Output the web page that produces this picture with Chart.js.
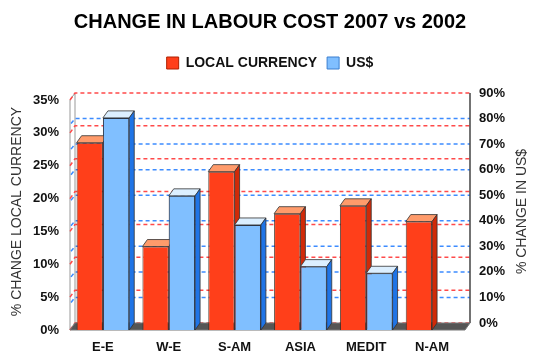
<!DOCTYPE html>
<html>
<head>
<meta charset="utf-8">
<script src="https://cdn.jsdelivr.net/npm/chart.js@4.4.1/dist/chart.umd.min.js"></script>
<style>
  body { margin: 0; background: #fff; }
</style>
</head>
<body>
<canvas id="chart" width="540" height="363"></canvas>
<script>
const regions = ["E-E", "W-E", "S-AM", "ASIA", "MEDIT", "N-AM"];
const localCurrency = [28.5, 12.7, 24.1, 17.7, 18.9, 16.5];
const usDollar = [83, 52.5, 41.1, 24.8, 22.2, null];
const localTicks = [0, 5, 10, 15, 20, 25, 30, 35];
const usdTicks = [0, 10, 20, 30, 40, 50, 60, 70, 80, 90];

// fake 3d depth (px) and plot height, used to line up front / back planes
const DX = 5, DY = -7;
const AREA_H = 237;
const leftMax = 35 * AREA_H / (AREA_H + DY);
const usdMin = 90 * DY / (AREA_H + DY);
const usdBarMax = 90 * AREA_H / (AREA_H + DY);

const faces = [
  { top: "#ff9b6b", side: "#d02a08" },
  { top: "#dcefff", side: "#1f74e6" }
];

Chart.defaults.font.family = "'Liberation Sans', Arial, sans-serif";

function poly(ctx, pts, fill) {
  ctx.beginPath();
  ctx.moveTo(pts[0][0], pts[0][1]);
  pts.slice(1).forEach(p => ctx.lineTo(p[0], p[1]));
  ctx.closePath();
  ctx.fillStyle = fill;
  ctx.fill();
  ctx.stroke();
}

function drawFaces(chart, idx) {
  const ctx = chart.ctx;
  const f = faces[idx];
  const values = chart.data.datasets[idx].data;
  ctx.save();
  ctx.lineWidth = 1;
  ctx.strokeStyle = "rgba(50,50,50,0.8)";
  chart.getDatasetMeta(idx).data.forEach((bar, i) => {
    if (values[i] == null) return;
    const { x, y, base, width } = bar.getProps(["x", "y", "base", "width"], true);
    const l = x - width / 2, r = x + width / 2;
    poly(ctx, [[l, y], [r, y], [r + DX, y + DY], [l + DX, y + DY]], f.top);
    poly(ctx, [[r, y], [r + DX, y + DY], [r + DX, base + DY], [r, base]], f.side);
  });
  ctx.restore();
}

// ------------------- walls, gridlines, floor, 3d faces -------------------
const wallPlugin = {
  id: "walls",
  beforeDatasetsDraw(chart) {
    const { ctx, chartArea: a, scales } = chart;
    ctx.save();

    // left wall
    ctx.strokeStyle = "#999";
    ctx.lineWidth = 1;
    poly(ctx, [[a.left, a.bottom], [a.left, a.top - DY], [a.left + DX, a.top], [a.left + DX, a.bottom + DY]], "#fff");

    ctx.lineWidth = 1.5;
    ctx.setLineDash([4, 3]);

    // red lines for local currency
    ctx.strokeStyle = "#ff4a4a";
    localTicks.forEach(v => {
      const y = scales.y.getPixelForValue(v);
      ctx.beginPath();
      ctx.moveTo(a.left, y);
      ctx.lineTo(a.left + DX, y + DY);
      ctx.lineTo(a.right + DX, y + DY);
      ctx.stroke();
    });

    // blue lines for US$
    ctx.strokeStyle = "#3d8cff";
    usdTicks.slice(1, -1).forEach(v => {
      const y = scales.y1.getPixelForValue(v);
      ctx.beginPath();
      ctx.moveTo(a.left + 1, y + 5);
      ctx.lineTo(a.left + DX, y);
      ctx.lineTo(a.right + DX, y);
      ctx.stroke();
    });
    ctx.setLineDash([]);

    // right edge of back wall
    ctx.strokeStyle = "#444";
    ctx.lineWidth = 1.5;
    ctx.beginPath();
    ctx.moveTo(a.right + DX, a.top);
    ctx.lineTo(a.right + DX, a.bottom + DY);
    ctx.stroke();

    // floor
    ctx.strokeStyle = "#777";
    ctx.lineWidth = 1;
    poly(ctx, [[a.left, a.bottom], [a.right, a.bottom], [a.right + DX, a.bottom + DY], [a.left + DX, a.bottom + DY]], "#555");

    ctx.restore();
  },
  afterDatasetsDraw(chart) {
    // red faces first, then the blue bars again so they sit in front of them
    drawFaces(chart, 0);
    const values = chart.data.datasets[1].data;
    chart.getDatasetMeta(1).data.forEach((bar, i) => {
      if (values[i] != null) bar.draw(chart.ctx);
    });
    drawFaces(chart, 1);
  },
  afterDraw(chart) {
    // right axis title, reading bottom to top like the left one
    const { ctx, chartArea: a } = chart;
    ctx.save();
    ctx.translate(chart.width - 17.4, (a.top + a.bottom) / 2);
    ctx.rotate(-Math.PI / 2);
    ctx.fillStyle = "#333";
    ctx.font = "14px 'Liberation Sans', Arial, sans-serif";
    ctx.textAlign = "center";
    ctx.textBaseline = "middle";
    ctx.fillText("% CHANGE IN US$", 0, 0);
    ctx.restore();
  }
};

const tickFont = { size: 13, weight: "bold" };

new Chart(document.getElementById("chart"), {
  type: "bar",
  data: {
    labels: regions,
    datasets: [
      {
        label: "LOCAL CURRENCY",
        data: localCurrency,
        yAxisID: "y",
        backgroundColor: "#ff3f1a",
        borderColor: "rgba(60,40,30,0.85)",
        borderWidth: 1
      },
      {
        label: "US$",
        data: usDollar,
        yAxisID: "yB",
        backgroundColor: "#80bfff",
        borderColor: "rgba(40,50,70,0.85)",
        borderWidth: 1
      }
    ]
  },
  options: {
    responsive: false,
    animation: false,
    categoryPercentage: 0.8,
    barPercentage: 1,
    layout: { padding: 0 },
    plugins: {
      title: {
        display: true,
        text: "CHANGE IN LABOUR COST 2007 vs 2002",
        color: "#000",
        font: { size: 20, weight: "bold" },
        padding: { top: 10, bottom: 12 }
      },
      subtitle: {
        display: true,
        text: "",
        weight: 500,
        font: { size: 1, lineHeight: 1 },
        padding: { top: 12, bottom: 0 }
      },
      legend: {
        labels: {
          boxWidth: 12,
          boxHeight: 12,
          padding: 10,
          color: "#111",
          font: { size: 14, weight: "bold" },
          generateLabels(chart) {
            const items = Chart.defaults.plugins.legend.labels.generateLabels(chart);
            items.forEach(it => {
              it.strokeStyle = it.datasetIndex === 0 ? "#b02000" : "#3a7fd0";
            });
            return items;
          }
        }
      },
      tooltip: { enabled: false }
    },
    scales: {
      x: {
        grid: { display: false, drawTicks: false },
        border: { display: false },
        ticks: { padding: 10, color: "#111", font: tickFont },
        afterFit: s => { s.height = 33; }
      },
      y: {
        position: "left",
        min: 0,
        max: leftMax,
        grid: { display: false, drawTicks: false },
        border: { display: false },
        afterBuildTicks: s => { s.ticks = localTicks.map(v => ({ value: v })); },
        ticks: { padding: 11, color: "#111", font: tickFont, callback: v => v + "%" },
        title: {
          display: true,
          text: "% CHANGE LOCAL CURRENCY",
          color: "#333",
          font: { size: 14 },
          padding: { top: 9, bottom: 0 }
        },
        afterFit: s => { s.width = 70; }
      },
      yB: { display: false, min: 0, max: usdBarMax },
      y1: {
        position: "right",
        min: usdMin,
        max: 90,
        grid: { display: false, drawTicks: false },
        border: { display: false },
        afterBuildTicks: s => { s.ticks = usdTicks.map(v => ({ value: v })); },
        ticks: { padding: 14, color: "#111", font: tickFont, callback: v => v + "%" },
        afterFit: s => { s.width = 75; }
      }
    }
  },
  plugins: [wallPlugin]
});
</script>
</body>
</html>
